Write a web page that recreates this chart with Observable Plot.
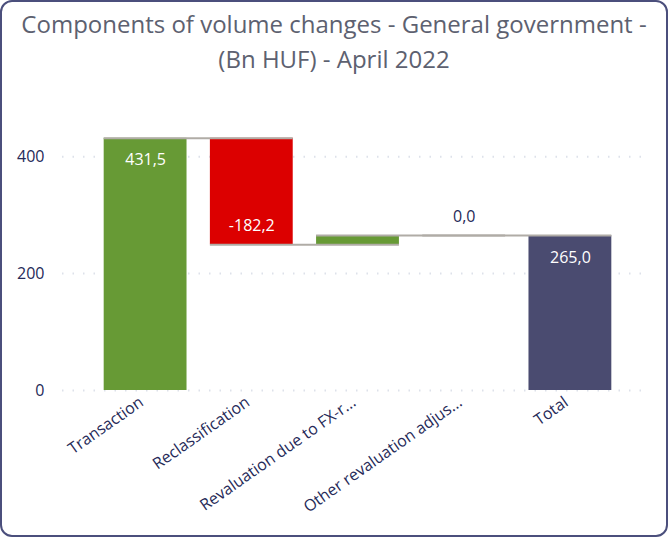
<!DOCTYPE html>
<html>
<head>
<meta charset="utf-8">
<script src="https://cdn.jsdelivr.net/npm/d3@7"></script>
<script src="https://cdn.jsdelivr.net/npm/@observablehq/plot@0.6"></script>
<style>
  html, body { margin: 0; padding: 0; background: #fff; }
  #page { position: relative; width: 668px; height: 537px; overflow: hidden; font-family: "Open Sans", sans-serif; }
  #frame { position: absolute; left: 0; top: 0; width: 668px; height: 537px; box-sizing: border-box;
           border: 2px solid #4b4f7c; border-radius: 12px; pointer-events: none; }
  #title { position: absolute; left: 0; top: 6px; width: 668px; text-align: center; font-size: 24px;
           line-height: 35px; color: #5d6170; }
  #chart { position: absolute; left: 0; top: 90px; }
</style>
</head>
<body>
<div id="page">
  <div id="title">Components of volume changes - General government -<br>(Bn HUF) - April 2022</div>
  <div id="chart"></div>
  <div id="frame"></div>
</div>
<script>
const categories = ["Transaction", "Reclassification", "Revaluation due to FX-rate changes", "Other revaluation adjustments", "Total"];
const tickLabels = ["Transaction", "Reclassification", "Revaluation due to FX-r...", "Other revaluation adjus...", "Total"];
const values = [431.5, -182.2, 15.7, 0.0, 265.0];
const isTotal = [false, false, false, false, true];
const showLabel = [true, true, false, true, true];
const yTicks = [0, 200, 400];

const fmt = v => d3.format(".1f")(v).replace("\u2212", "-").replace(".", ",");

let run = 0;
const rows = categories.map((c, i) => {
  let start, end;
  if (isTotal[i]) { start = 0; end = values[i]; run = values[i]; }
  else { start = run; end = run + values[i]; run = end; }
  return {i, name: c, value: values[i], start, end,
          lo: Math.min(start, end), hi: Math.max(start, end),
          kind: isTotal[i] ? "total" : (values[i] < 0 ? "neg" : "pos"),
          label: fmt(values[i]), show: showLabel[i]};
});
const half = 0.39;
const connectors = rows.slice(0, -1).map((r, k) => ({x1: r.i - half, x2: rows[k + 1].i + half, y: r.end}));

const W = 668, H = 445;
const chart = Plot.plot({
  width: W, height: H,
  marginLeft: 92, marginRight: 45, marginTop: 37, marginBottom: 145,
  style: {fontFamily: "Open Sans, sans-serif", fontSize: "16px", background: "transparent"},
  x: {domain: [-0.5, categories.length - 0.5], axis: null},
  y: {domain: [0, 450], axis: null},
  color: {domain: ["pos", "neg", "total"], range: ["#679a35", "#dc0000", "#4a4b70"]},
  marks: [
    Plot.ruleY(yTicks, {stroke: "#dde1ea", strokeWidth: 2, strokeDasharray: "1.5,9", insetLeft: -30, insetRight: -27}),
    Plot.rect(rows, {x1: d => d.i - half, x2: d => d.i + half, y1: "lo", y2: "hi", fill: "kind"}),
    Plot.ruleY(connectors, {x1: "x1", x2: "x2", y: "y", stroke: "#b0aca6", strokeWidth: 2}),
    Plot.axisY({ticks: yTicks, tickSize: 0, tickPadding: 48, fontSize: 16, color: "#262a58", label: null}),
    Plot.axisX({ticks: d3.range(categories.length), tickFormat: i => tickLabels[i], tickRotate: -35, tickSize: 0,
                tickPadding: 10, dx: -4, fontSize: 16, color: "#262a58", label: null}),
    Plot.text(rows.filter(d => d.show && d.kind !== "neg" && d.value !== 0), {x: "i", y: "hi", text: "label", fill: "white", dy: 22, fontSize: 16}),
    Plot.text(rows.filter(d => d.show && d.kind === "neg"), {x: "i", y: "lo", text: "label", fill: "white", dy: -19, fontSize: 16}),
    Plot.text(rows.filter(d => d.show && d.value === 0), {x: "i", y: "hi", text: "label", fill: "#262a58", dy: -19, fontSize: 16})
  ]
});
document.getElementById("chart").appendChild(chart);
</script>
</body>
</html>
